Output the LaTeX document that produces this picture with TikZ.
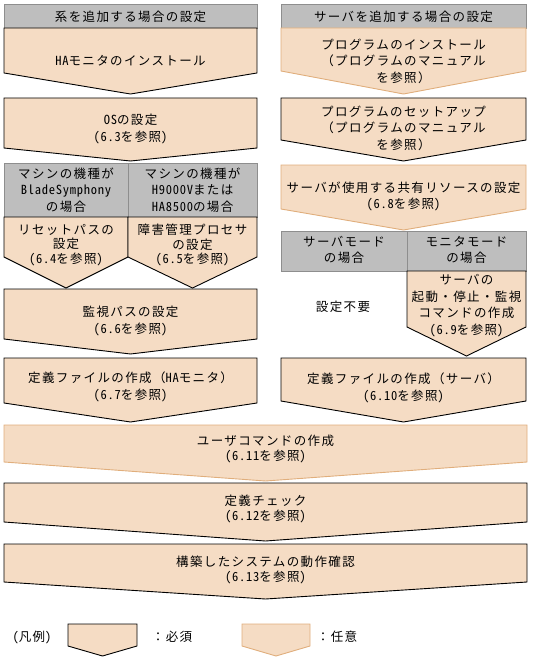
\documentclass[tikz,border=0pt]{standalone}
\usepackage{fontspec}
\setmainfont{Noto Sans CJK JP}[LetterSpace=11]
\newfontfamily\hw{Noto Sans CJK JP}[RawFeature=+hwid,LetterSpace=6]
\newcommand\sref[1]{{\hw(#1}を参照{\hw)}}
\newcommand\hl[1]{{\hw #1}}
\definecolor{pch}{HTML}{F5DCC4}
\definecolor{optc}{HTML}{E0AE7C}
\definecolor{grayf}{HTML}{BEBEBE}
\definecolor{grayd}{HTML}{8E8E8E}
\newcommand\chevshape[6]{%
  \path[#1] (#2,#4) -- (#3,#4) -- (#3,#5) -- ({(#2+#3)/2},#6) -- (#2,#5) -- cycle;}
\tikzset{
  req/.style={fill=pch, draw=black, line width=0.9pt, line join=miter},
  opt/.style={fill=pch, draw=optc, line width=0.9pt, line join=miter},
  hdr/.style={fill=grayf, draw=grayd, line width=0.9pt},
  txt/.style={align=center, inner sep=0pt, font=\fontsize{12.5}{16.5}\selectfont},
  tight/.style={font=\fontsize{12.5}{14.5}\selectfont}
}
\begin{document}
\begin{tikzpicture}[x=1pt,y=-1pt]
\useasboundingbox (0,0) rectangle (537,658);
% left column
\path[hdr] (4,4) rectangle (257,28);
\node[txt] (hl) at (130.5,16.5) {系を追加する場合の設定};
\chevshape{req}{4}{257}{28}{73}{94}
\node[txt] (ha) at (130.5,61) {\hl{HA}モニタのインストール};
\chevshape{req}{4}{257}{98}{148}{161}
\node[txt] (os) at (130.5,129) {\hl{OS}の設定\\\sref{6.3}};
\path[hdr] (4,163) rectangle (128,217);
\path[hdr] (128,163) rectangle (257,217);
\node[txt] (m1) at (66,190) {マシンの機種が\\\hl{BladeSymphony}\\の場合};
\node[txt] (m2) at (192.5,190) {マシンの機種が\\\hl{H9000V}または\\\hl{HA8500}の場合};
\chevshape{req}{4}{128}{217}{257}{288}
\chevshape{req}{128}{257}{217}{257}{288}
\node[txt,tight] (rs) at (66,245) {リセットパスの\\設定\\\sref{6.4}};
\node[txt,tight] (fp) at (192.5,245) {障害管理プロセサ\\の設定\\\sref{6.5}};
\chevshape{req}{4}{257}{289}{339}{354}
\node[txt] (kp) at (130.5,321) {監視パスの設定\\\sref{6.6}};
\chevshape{req}{4}{257}{358}{403}{422}
\node[txt] (dh) at (130.5,387) {定義ファイルの作成（\hl{HA}モニタ）\\\sref{6.7}};
% right column
\path[hdr] (281,4) rectangle (526,28);
\node[txt] (hr) at (403.5,16.5) {サーバを追加する場合の設定};
\chevshape{opt}{281}{526}{28}{71}{94}
\node[txt] (pi) at (403.5,61) {プログラムのインストール\\（プログラムのマニュアル\\を参照）};
\chevshape{req}{281}{526}{98}{140}{161}
\node[txt] (ps) at (403.5,128) {プログラムのセットアップ\\（プログラムのマニュアル\\を参照）};
\chevshape{opt}{281}{526}{165}{209}{230}
\node[txt] (sr) at (403.5,196.5) {サーバが使用する共有リソースの設定\\\sref{6.8}};
\path[hdr] (281,231) rectangle (407,271);
\path[hdr] (407,231) rectangle (526,271);
\node[txt] (sm) at (344,250) {サーバモード\\の場合};
\node[txt] (mm) at (466.5,250) {モニタモード\\の場合};
\node[txt] (nn) at (343,307) {設定不要};
\chevshape{req}{407}{526}{271}{327}{356}
\node[txt] (sc) at (466.5,305.5) {サーバの\\起動・停止・監視\\コマンドの作成\\\sref{6.9}};
\chevshape{req}{281}{526}{358}{401}{422}
\node[txt] (ds) at (403.5,388) {定義ファイルの作成（サーバ）\\\sref{6.10}};
% full width
\chevshape{opt}{4}{527}{425}{462}{481}
\node[txt,tight] (uc) at (265.5,449) {ユーザコマンドの作成\\\sref{6.11}};
\chevshape{req}{4}{527}{483}{522}{541}
\node[txt,tight] (ck) at (265.5,509) {定義チェック\\\sref{6.12}};
\chevshape{req}{4}{527}{544}{582}{599}
\node[txt,tight] (bd) at (265.5,570) {構築したシステムの動作確認\\\sref{6.13}};
% legend
\node[txt] (lg) at (32,637) {\hl{(}凡例\hl{)}};
\chevshape{req}{68}{137}{624}{646}{656}
\node[txt] (l1) at (172,637) {：必須};
\chevshape{opt}{242}{310}{624}{646}{656}
\node[txt] (l2) at (337,637) {：任意};
\end{tikzpicture}
\end{document}
